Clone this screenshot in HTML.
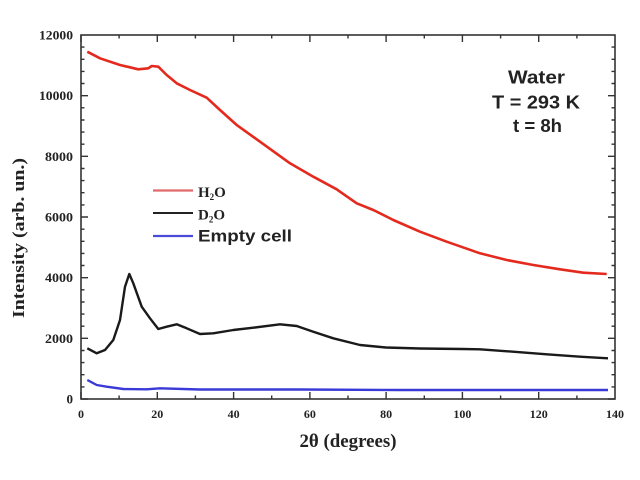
<!DOCTYPE html>
<html><head><meta charset="utf-8"><style>
html,body{margin:0;padding:0;background:#fff;}
svg{display:block;}
.tl{font-family:"Liberation Serif",serif;font-weight:bold;font-size:13px;fill:#222;}
.xl{font-family:"Liberation Serif",serif;font-weight:bold;font-size:12px;fill:#222;}
</style></head><body>
<svg width="640" height="480" viewBox="0 0 640 480" xmlns="http://www.w3.org/2000/svg">
<rect width="640" height="480" fill="#fff"/>
<!-- curves -->
<polyline fill="none" stroke="#e42a1e" stroke-width="2.6" stroke-linejoin="round" points="87.3,51.7 100,58.3 120,65 138.3,69.3 148.3,68.3 151.7,66 158.3,66.7 166.7,75 176.7,83.3 190,90 206.7,97.7 220,110 236.7,125 260,141.7 290,163.3 313.3,176.7 336.7,189.3 340,191.7 356.7,203.3 373.3,210 393.3,220 420,231.7 446.7,241.7 480,253.3 506.7,260 533.3,265 560,269.3 583.3,272.7 606.7,274"/>
<polyline fill="none" stroke="#1a1a1a" stroke-width="2.4" stroke-linejoin="round" points="87.3,348.3 96.7,353.3 105,350 113.3,340 120,320 125,286.7 129.3,274 133.3,283.3 141.7,306.7 150,318.3 158.3,329 166.7,326.7 176.7,324.3 186.7,328.3 200,334 213.3,333.3 233.3,330 253.3,327.7 280,324.3 296.7,326 313.3,331.7 333.3,338.3 360,345 386,347.5 420,348.5 462,349 480,349.3 513,351.7 546.7,354.3 580,356.7 608,358.3"/>
<polyline fill="none" stroke="#3a3ad8" stroke-width="2.4" stroke-linejoin="round" points="87.3,380 96.7,385 106.7,386.7 123.3,389 146.7,389.3 160,388.3 200,389.5 300,389.5 400,390 500,390 608,390"/>
<!-- frame -->
<rect x="81" y="35" width="534" height="364" fill="none" stroke="#333" stroke-width="1.6"/>
<g stroke="#333" stroke-width="1.4">
<path d="M81,399v-7M81,35v7M119.1,399v-3.5M119.1,35v3.5M157.3,399v-7M157.3,35v7M195.4,399v-3.5M195.4,35v3.5M233.6,399v-7M233.6,35v7M271.7,399v-3.5M271.7,35v3.5M309.9,399v-7M309.9,35v7M348,399v-3.5M348,35v3.5M386.1,399v-7M386.1,35v7M424.3,399v-3.5M424.3,35v3.5M462.4,399v-7M462.4,35v7M500.6,399v-3.5M500.6,35v3.5M538.7,399v-7M538.7,35v7M576.9,399v-3.5M576.9,35v3.5"/>
<path d="M81,399h7M615,399h-7M81,386.9h3.5M615,386.9h-3.5M81,374.7h3.5M615,374.7h-3.5M81,362.6h3.5M615,362.6h-3.5M81,350.5h3.5M615,350.5h-3.5M81,338.3h7M615,338.3h-7M81,326.2h3.5M615,326.2h-3.5M81,314.1h3.5M615,314.1h-3.5M81,302h3.5M615,302h-3.5M81,289.8h3.5M615,289.8h-3.5M81,277.7h7M615,277.7h-7M81,265.5h3.5M615,265.5h-3.5M81,253.4h3.5M615,253.4h-3.5M81,241.3h3.5M615,241.3h-3.5M81,229.2h3.5M615,229.2h-3.5M81,217h7M615,217h-7M81,204.9h3.5M615,204.9h-3.5M81,192.7h3.5M615,192.7h-3.5M81,180.6h3.5M615,180.6h-3.5M81,168.5h3.5M615,168.5h-3.5M81,156.3h7M615,156.3h-7M81,144.2h3.5M615,144.2h-3.5M81,132.1h3.5M615,132.1h-3.5M81,120h3.5M615,120h-3.5M81,107.8h3.5M615,107.8h-3.5M81,95.7h7M615,95.7h-7M81,83.5h3.5M615,83.5h-3.5M81,71.4h3.5M615,71.4h-3.5M81,59.3h3.5M615,59.3h-3.5M81,47.1h3.5M615,47.1h-3.5"/>
</g>
<!-- y tick labels -->
<g class="tl" text-anchor="end">
<text x="73" y="403.5">0</text>
<text x="73" y="342.8" textLength="28" lengthAdjust="spacingAndGlyphs">2000</text>
<text x="73" y="282.2" textLength="28" lengthAdjust="spacingAndGlyphs">4000</text>
<text x="73" y="221.5" textLength="28" lengthAdjust="spacingAndGlyphs">6000</text>
<text x="73" y="160.8" textLength="28" lengthAdjust="spacingAndGlyphs">8000</text>
<text x="73" y="100.2" textLength="34" lengthAdjust="spacingAndGlyphs">10000</text>
<text x="73" y="39.5" textLength="34" lengthAdjust="spacingAndGlyphs">12000</text>
</g>
<!-- x tick labels -->
<g class="xl" text-anchor="middle">
<text x="81" y="418">0</text>
<text x="157.3" y="418">20</text>
<text x="233.6" y="418">40</text>
<text x="309.9" y="418">60</text>
<text x="386.1" y="418">80</text>
<text x="462.4" y="418">100</text>
<text x="538.7" y="418">120</text>
<text x="615" y="418">140</text>
</g>
<!-- axis titles -->
<text x="348" y="447" text-anchor="middle" font-family="Liberation Serif, serif" font-weight="bold" font-size="19" fill="#222" textLength="97" lengthAdjust="spacingAndGlyphs">2θ (degrees)</text>
<text transform="translate(24,238) rotate(-90)" text-anchor="middle" font-family="Liberation Serif, serif" font-weight="bold" font-size="17" fill="#222" textLength="160" lengthAdjust="spacingAndGlyphs">Intensity (arb. un.)</text>
<!-- annotation -->
<g font-family="Liberation Sans, sans-serif" font-weight="bold" font-size="18" fill="#222" text-anchor="middle">
<text x="536.5" y="83.5" textLength="57" lengthAdjust="spacingAndGlyphs">Water</text>
<text x="536" y="108.5" textLength="88" lengthAdjust="spacingAndGlyphs">T = 293 K</text>
<text x="537.5" y="132" textLength="49" lengthAdjust="spacingAndGlyphs">t = 8h</text>
</g>
<!-- legend -->
<line x1="153" y1="190.5" x2="193" y2="190.5" stroke="#e06a6a" stroke-width="2.2"/>
<line x1="153" y1="213" x2="193" y2="213" stroke="#222" stroke-width="2"/>
<line x1="153" y1="236" x2="193" y2="236" stroke="#4a4ad8" stroke-width="2.2"/>
<g font-family="Liberation Serif, serif" font-weight="bold" font-size="15" fill="#222">
<text x="198" y="197">H<tspan font-size="9" dy="3">2</tspan><tspan dy="-3">O</tspan></text>
<text x="198" y="219.5">D<tspan font-size="9" dy="3">2</tspan><tspan dy="-3">O</tspan></text>
</g>
<text x="198" y="241.5" font-family="Liberation Sans, sans-serif" font-weight="bold" font-size="17" fill="#222" textLength="94" lengthAdjust="spacingAndGlyphs">Empty cell</text>
</svg>
</body></html>
